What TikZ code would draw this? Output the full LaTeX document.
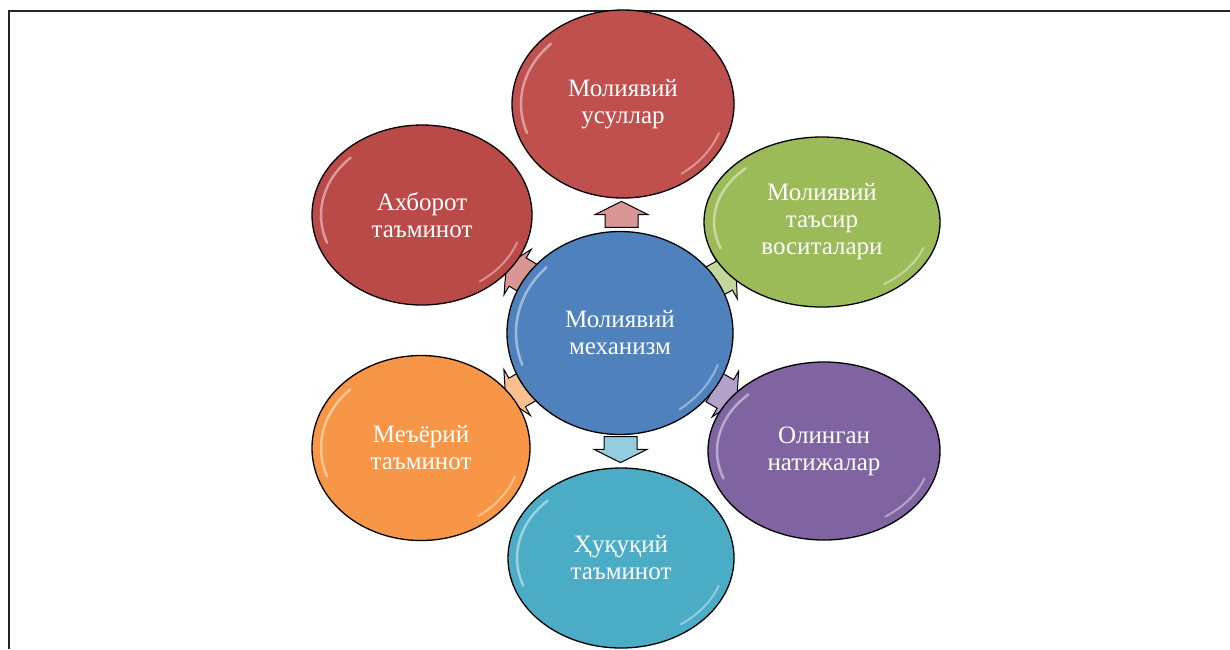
\documentclass[tikz,border=0pt]{standalone}
\usepackage{fontspec}
\setmainfont{Liberation Serif}
\usetikzlibrary{shapes.geometric,shapes.arrows,calc,backgrounds}
\definecolor{cblue}{HTML}{4F81BD}
\definecolor{cred}{HTML}{C0504D}
\definecolor{cred2}{HTML}{BA4A48}
\definecolor{cgreen}{HTML}{9BBB59}
\definecolor{corange}{HTML}{F79646}
\definecolor{cpurple}{HTML}{8064A2}
\definecolor{cteal}{HTML}{4BACC6}
\definecolor{ared}{HTML}{D99694}
\definecolor{agreen}{HTML}{C3D69B}
\definecolor{aorange}{HTML}{FAC090}
\definecolor{apurple}{HTML}{B3A2C7}
\definecolor{ateal}{HTML}{93CDDD}
\newcommand\glossy[3]{%
  \draw[white,opacity=.45,line width=2.5pt,line cap=round]
    (#1.center) ++(160:#2 and #3) arc[start angle=160,end angle=225,x radius=#2,y radius=#3];
  \draw[white,opacity=.4,line width=2pt,line cap=round]
    (#1.center) ++(20:#2 and #3) arc[start angle=20,end angle=55,x radius=#2,y radius=#3];
}
\begin{document}
\begin{tikzpicture}[x=1pt,y=-1pt,
  bub/.style={ellipse, draw=black, line width=1.3pt, inner sep=0pt, text=white,
    align=center, font=\fontsize{25}{27}\selectfont},
  blk/.style={single arrow, draw=black, line width=1pt, inner xsep=0pt, inner ysep=16pt,
    single arrow head extend=10pt, single arrow tip angle=127,
    minimum height=26pt}]
\useasboundingbox (0,0) rectangle (1230,649);
\draw[line width=2.2pt, draw=black!85] (9,649) -- (9,11) -- (1230,11);

\node[bub, fill=cblue, minimum width=226pt, minimum height=203pt] (mex) at (620,333) {Молиявий\\механизм};
\node[bub, fill=cred, minimum width=222pt, minimum height=188pt] (usl) at (623,104) {Молиявий\\усуллар};
\node[bub, fill=cred2, minimum width=220pt, minimum height=180pt] (axb) at (422,215) {Ахборот\\таъминот};
\node[bub, fill=cgreen, minimum width=236pt, minimum height=170pt] (tas) at (822,222) {Молиявий\\таъсир\\воситалари};
\node[bub, fill=corange, minimum width=218pt, minimum height=185pt] (mey) at (421,448) {Меъёрий\\таъминот};
\node[bub, fill=cpurple, minimum width=232pt, minimum height=178pt] (nat) at (824,451) {Олинган\\натижалар};
\node[bub, fill=cteal, minimum width=226pt, minimum height=180pt] (huq) at (621,558) {Ҳуқуқий\\таъминот};

\glossy{mex}{104}{93}
\glossy{usl}{102}{85}
\glossy{axb}{101}{81}
\glossy{tas}{108}{76}
\glossy{mey}{100}{83}
\glossy{nat}{107}{80}
\glossy{huq}{104}{81}

\begin{pgfonlayer}{background}
\node[blk, fill=ared, rotate=90] (a1) at ($(mex)!0.5!(usl)$) {};
\node[blk, fill=ared, rotate=149] (a2) at ($(mex)!0.5!(axb)$) {};
\node[blk, fill=agreen, rotate=29] (a3) at ($(mex)!0.5!(tas)$) {};
\node[blk, fill=aorange, rotate=210] (a4) at ($(mex)!0.5!(mey)$) {};
\node[blk, fill=apurple, rotate=-30] (a5) at ($(mex)!0.5!(nat)$) {};
\node[blk, fill=ateal, rotate=-90] (a6) at ($(mex)!0.5!(huq)$) {};
\end{pgfonlayer}
\end{tikzpicture}
\end{document}
